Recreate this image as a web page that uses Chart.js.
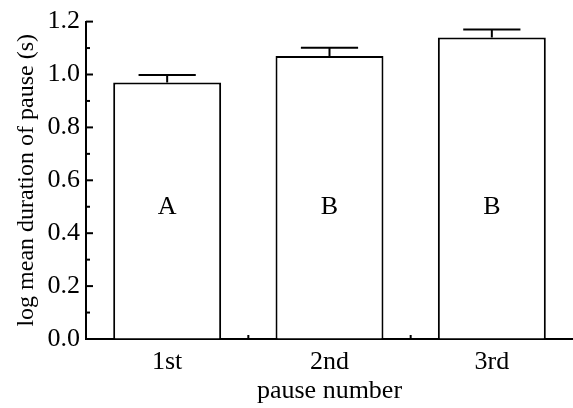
<!DOCTYPE html>
<html>
<head>
<meta charset="utf-8">
<script src="https://cdn.jsdelivr.net/npm/chart.js@4/dist/chart.umd.min.js"></script>
<style>
  html, body { margin: 0; padding: 0; background: #fff; }
  #wrap { width: 573px; height: 408px; }
</style>
</head>
<body>
<div id="wrap"><canvas id="c" width="573" height="408"></canvas></div>
<script>
// Pause order and mean log pause duration (s) with standard errors
const categories = ['1st', '2nd', '3rd'];
const meanLogDuration = [0.97, 1.07, 1.14];
const standardError = [0.028, 0.031, 0.030];
const groupLetters = ['A', 'B', 'B'];
const yTickValues = [0, 0.2, 0.4, 0.6, 0.8, 1.0, 1.2];
const letterLevel = 0.5;

const FAMILY = "'Liberation Serif', 'Times New Roman', serif";
const FONT = { family: FAMILY, size: 26 };
const TITLE_FONT_Y = { family: FAMILY, size: 24 };

// Error bars, group letters and inward-facing tick marks
const annotate = {
  id: 'annotate',
  afterDatasetsDraw(chart) {
    const { ctx, scales: { x, y }, chartArea } = chart;
    const meta = chart.getDatasetMeta(0);
    ctx.save();
    ctx.strokeStyle = '#000';
    ctx.fillStyle = '#000';
    ctx.lineWidth = 2;

    meta.data.forEach((bar, i) => {
      const cx = bar.x;
      const top = y.getPixelForValue(meanLogDuration[i]);
      const cap = y.getPixelForValue(meanLogDuration[i] + standardError[i]);
      const half = bar.width * 0.265;
      ctx.beginPath();
      ctx.moveTo(cx, top);
      ctx.lineTo(cx, cap);
      ctx.moveTo(cx - half, cap);
      ctx.lineTo(cx + half, cap);
      ctx.stroke();

      ctx.font = `${FONT.size}px ${FONT.family}`;
      ctx.textAlign = 'center';
      ctx.textBaseline = 'middle';
      ctx.fillText(groupLetters[i], cx, y.getPixelForValue(letterLevel));
    });

    // y ticks pointing into the plot: major every 0.2, minor between
    const left = chartArea.left;
    for (let k = 0; k <= 12; k++) {
      const py = y.getPixelForValue(k / 10);
      const len = k % 2 === 0 ? 7 : 4;
      ctx.beginPath();
      ctx.moveTo(left, py);
      ctx.lineTo(left + len, py);
      ctx.stroke();
    }
    // x ticks between categories
    const bottom = chartArea.bottom;
    for (let i = 0; i < categories.length - 1; i++) {
      const px = (x.getPixelForValue(i) + x.getPixelForValue(i + 1)) / 2;
      ctx.beginPath();
      ctx.moveTo(px, bottom);
      ctx.lineTo(px, bottom - 4);
      ctx.stroke();
    }
    ctx.restore();
  }
};

new Chart(document.getElementById('c'), {
  type: 'bar',
  data: {
    labels: categories,
    datasets: [{
      data: meanLogDuration,
      backgroundColor: '#fff',
      borderColor: '#000',
      borderWidth: 2,
      barPercentage: 0.665,
      categoryPercentage: 1.0
    }]
  },
  options: {
    responsive: false,
    animation: false,
    events: [],
    layout: { padding: { top: 19, right: 0, left: 0, bottom: 0 } },
    plugins: { legend: { display: false }, tooltip: { enabled: false } },
    scales: {
      x: {
        grid: { display: true, drawOnChartArea: false, drawTicks: false, color: 'rgba(0,0,0,0)' },
        border: { display: true, color: '#000', width: 2 },
        ticks: { color: '#000', font: FONT, padding: 8, maxRotation: 0 },
        title: { display: true, text: 'pause number', color: '#000', font: FONT, padding: { top: 0, bottom: 1 } },
        afterFit(scale) { scale.height = 69; }
      },
      y: {
        min: 0,
        max: 1.2,
        afterBuildTicks(scale) { scale.ticks = yTickValues.map(v => ({ value: v })); },
        grid: { display: true, drawOnChartArea: false, drawTicks: false, color: 'rgba(0,0,0,0)' },
        border: { display: true, color: '#000', width: 2 },
        ticks: { color: '#000', font: FONT, padding: 6, callback: v => Number(v).toFixed(1) },
        title: { display: true, text: 'log mean duration of pause (s)', color: '#000', font: TITLE_FONT_Y, padding: { top: 12, bottom: 0 } },
        afterFit(scale) { scale.width = 86; }
      }
    }
  },
  plugins: [annotate]
});
</script>
</body>
</html>
